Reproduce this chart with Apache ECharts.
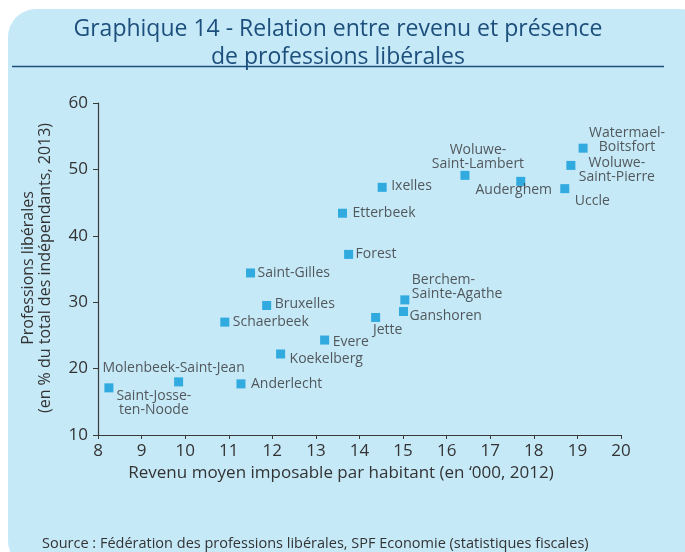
<!DOCTYPE html>
<html>
<head>
<meta charset="utf-8">
<script src="https://cdn.jsdelivr.net/npm/echarts@6/dist/echarts.min.js"></script>
<style>
  html, body { margin: 0; padding: 0; background: #fff; }
  #chart { width: 685px; height: 552px; }
</style>
</head>
<body>
<div id="chart"></div>
<script>
// communes (label text, with line breaks as in the print)
var communes = [
	'Saint-Josse-\nten-Noode', 'Molenbeek-Saint-Jean', 'Anderlecht', 'Schaerbeek',
	'Saint-Gilles', 'Bruxelles', 'Koekelberg', 'Evere', 'Jette', 'Ganshoren',
	'Berchem-\nSainte-Agathe', 'Etterbeek', 'Forest', 'Ixelles',
	'Woluwe-\nSaint-Lambert', 'Auderghem', 'Uccle', 'Woluwe-\nSaint-Pierre',
	'Watermael-\nBoitsfort'
];
// revenu moyen imposable par habitant ('000 EUR, 2012)
var revenu = [8.25, 9.85, 11.28, 10.91, 11.5, 11.87, 12.19, 13.2, 14.37, 15.01,
	15.04, 13.61, 13.75, 14.52, 16.42, 17.7, 18.71, 18.85, 19.13];
// professions liberales (% du total des independants, 2013)
var liberales = [17.1, 18.0, 17.7, 27.0, 34.4, 29.5, 22.2, 24.3, 27.7, 28.6,
	30.35, 43.4, 37.2, 47.3, 49.1, 48.2, 47.1, 50.6, 53.2];

var xTicks = { min: 8, max: 20, step: 1 };
var yTicks = { min: 10, max: 60, step: 10 };

// where each label sits next to its square: [align, dx, dy]
var labelPos = [
	['center', 45, 15], ['center', -5, -14], ['left', 10, 0], ['left', 8, 0],
	['left', 7, 0], ['left', 8, -2], ['left', 9, 5], ['left', 8, 2],
	['center', 12, 13], ['left', 6, 5], ['left', 7, -13], ['left', 10, 0],
	['left', 7, 0], ['left', 9, -1], ['center', 13, -18], ['center', -7, 9],
	['left', 10, 12], ['center', 46, 5], ['center', 44, -8]
];

var FONT = '"Open Sans", sans-serif';
var TXT = '#333333';
var NAVY = '#1d4f7c';

var points = communes.map(function (name, i) {
	var p = labelPos[i];
	return {
		name: name,
		value: [revenu[i], liberales[i]],
		label: {
			align: p[0],
			offset: [p[1], p[2]]
		}
	};
});

function titleLine(text, y) {
	return {
		type: 'text', silent: true,
		style: {
			x: 338, y: y, text: text,
			align: 'center', verticalAlign: 'middle', fontSize: 23,
			fontFamily: FONT, fill: NAVY
		}
	};
}

var chart = echarts.init(document.getElementById('chart'));
chart.setOption({
	animation: false,
	textStyle: { fontFamily: FONT },
	graphic: [
		{
			type: 'rect', z: -10, silent: true,
			shape: { x: 8, y: 9, width: 700, height: 560, r: 28 },
			style: { fill: '#c6e9f8' }
		},
		titleLine('Graphique 14 - Relation entre revenu et présence', 29),
		titleLine('de professions libérales', 57),
		{
			type: 'line', silent: true,
			shape: { x1: 12, y1: 66.5, x2: 664, y2: 66.5 },
			style: { stroke: NAVY, lineWidth: 1.5 }
		},
		{
			type: 'text', silent: true,
			x: 37, y: 268, rotation: Math.PI / 2,
			style: {
				text: 'Professions libérales\n(en % du total des indépendants, 2013)',
				align: 'center', verticalAlign: 'middle', fontSize: 16, lineHeight: 17,
				fontFamily: FONT, fill: TXT
			}
		},
		{
			type: 'text', silent: true,
			style: {
				x: 341, y: 473, text: 'Revenu moyen imposable par habitant (en \u2018000, 2012)',
				align: 'center', verticalAlign: 'middle', fontSize: 17,
				fontFamily: FONT, fill: TXT
			}
		},
		{
			type: 'text', silent: true,
			style: {
				x: 42, y: 544, text: 'Source : Fédération des professions libérales, SPF Economie (statistiques fiscales)',
				align: 'left', verticalAlign: 'middle', fontSize: 14.5,
				fontFamily: FONT, fill: TXT
			}
		}
	],
	grid: { left: 98, right: 64, top: 103, bottom: 117 },
	xAxis: {
		type: 'value',
		min: xTicks.min, max: xTicks.max, interval: xTicks.step,
		splitLine: { show: false },
		axisLine: { show: true, lineStyle: { color: '#3a3a3a', width: 1.2 } },
		axisTick: { show: true, length: 4, lineStyle: { color: '#3a3a3a' } },
		axisLabel: { color: TXT, fontSize: 17, margin: 8, fontFamily: FONT }
	},
	yAxis: {
		type: 'value',
		min: yTicks.min, max: yTicks.max, interval: yTicks.step,
		splitLine: { show: false },
		axisLine: { show: true, lineStyle: { color: '#3a3a3a', width: 1.2 } },
		axisTick: { show: true, length: 5, lineStyle: { color: '#3a3a3a' } },
		axisLabel: { color: TXT, fontSize: 17, margin: 10, fontFamily: FONT }
	},
	series: [{
		type: 'scatter',
		symbol: 'rect',
		symbolSize: 9,
		itemStyle: { color: '#0a9ad8' },
		label: {
			show: true,
			position: 'inside',
			formatter: '{b}',
			color: TXT,
			fontSize: 14,
			lineHeight: 14,
			verticalAlign: 'middle',
			fontFamily: FONT
		},
		data: points
	}]
});
</script>
</body>
</html>
